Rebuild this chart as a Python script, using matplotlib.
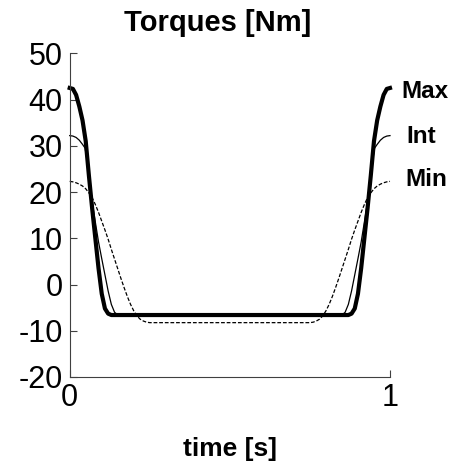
import matplotlib
matplotlib.use("Agg")
import matplotlib.pyplot as plt

# time [s] and torque [Nm]
t_max = [0.000, 0.010, 0.020, 0.030, 0.040, 0.050, 0.060, 0.070, 0.080, 0.090,
         0.100, 0.110, 0.120, 0.130,
         0.870, 0.880, 0.890, 0.900, 0.910, 0.920, 0.930, 0.940, 0.950, 0.960,
         0.970, 0.980, 0.990, 1.000]
tq_max = [42.5, 42.3, 41.0, 38.5, 35.5, 31.0, 23.5, 16.5, 10.0, 3.5,
          -2.0, -5.2, -6.3, -6.6,
          -6.6, -6.3, -5.2, -2.0, 3.5, 10.0, 16.5, 23.5, 31.0, 35.5,
          38.5, 41.0, 42.3, 42.5]

t_int = [0.000, 0.010, 0.020, 0.030, 0.040, 0.048, 0.055, 0.060, 0.070, 0.080,
         0.090, 0.100, 0.110, 0.120, 0.130, 0.140, 0.150,
         0.850, 0.860, 0.870, 0.880, 0.890, 0.900, 0.910, 0.920, 0.930,
         0.940, 0.945, 0.952, 0.960, 0.970, 0.980, 0.990, 1.000]
tq_int = [32.2, 32.1, 31.8, 31.2, 30.3, 29.5, 26.5, 23.5, 18.0, 13.5,
          9.2, 5.6, 2.1, -1.4, -4.3, -6.0, -6.6,
          -6.6, -6.0, -4.3, -1.4, 2.1, 5.6, 9.2, 13.5, 18.0,
          23.5, 26.5, 29.5, 30.3, 31.2, 31.8, 32.1, 32.2]

t_min = [0.00, 0.01, 0.02, 0.03, 0.04, 0.05, 0.06, 0.07, 0.08, 0.09,
         0.10, 0.11, 0.12, 0.13, 0.14, 0.15, 0.16, 0.17, 0.18, 0.19,
         0.20, 0.21, 0.22, 0.23, 0.24, 0.25,
         0.75, 0.76, 0.77, 0.78, 0.79, 0.80, 0.81, 0.82, 0.83, 0.84,
         0.85, 0.86, 0.87, 0.88, 0.89, 0.90, 0.91, 0.92, 0.93, 0.94,
         0.95, 0.96, 0.97, 0.98, 0.99, 1.00]
tq_min = [22.3, 22.2, 22.0, 21.7, 21.3, 20.7, 19.8, 18.8, 17.3, 15.6,
          13.7, 11.8, 9.8, 7.6, 5.5, 3.4, 1.3, -0.7, -2.6, -4.3,
          -5.7, -6.8, -7.5, -7.9, -8.15, -8.25,
          -8.25, -8.15, -7.9, -7.5, -6.8, -5.7, -4.3, -2.6, -0.7, 1.3,
          3.4, 5.5, 7.6, 9.8, 11.8, 13.7, 15.6, 17.3, 18.8, 19.8,
          20.7, 21.3, 21.7, 22.0, 22.2, 22.3]

names = ["Max", "Int", "Min"]
label_t = [1.036, 1.052, 1.047]
label_v = [41.8, 32.0, 22.6]

plt.rcParams['font.family'] = ['Liberation Sans', 'DejaVu Sans']
plt.rcParams['axes.unicode_minus'] = False

fig = plt.figure(figsize=(4.58, 4.70), dpi=100)
ax = fig.add_axes([0.1522, 0.1979, 0.6993, 0.6887])

ax.plot(t_max, tq_max, color='black', lw=3, clip_on=False)
ax.plot(t_int, tq_int, color='black', lw=0.9, clip_on=False)
ax.plot(t_min, tq_min, color='black', lw=0.9, dashes=(3, 1.5), clip_on=False)

for n, x, y in zip(names, label_t, label_v):
    ax.text(x, y, n, fontsize=17.5, fontweight='bold', ha='left', va='center',
            clip_on=False)

ax.set_xlim(0, 1)
ax.set_ylim(-20, 50)
ax.set_xticks([0, 1])
ax.set_yticks(range(-20, 51, 10))
ax.tick_params(direction='in', length=5, width=0.8, color='#404040',
               labelsize=22, pad=5)
ax.tick_params(axis='x', pad=4)
for s in ['top', 'right']:
    ax.spines[s].set_visible(False)
for s in ['left', 'bottom']:
    ax.spines[s].set_color('#404040')
    ax.spines[s].set_linewidth(0.8)

fig.text(217.7 / 458, 1 - 31 / 470, 'Torques [Nm]', fontsize=21,
         fontweight='bold', ha='center', va='baseline')
ax.set_xlabel('time [s]', fontsize=19, fontweight='bold', va='baseline')
ax.xaxis.set_label_coords(0.5, -0.244)

fig.savefig('out.png', dpi=100)
